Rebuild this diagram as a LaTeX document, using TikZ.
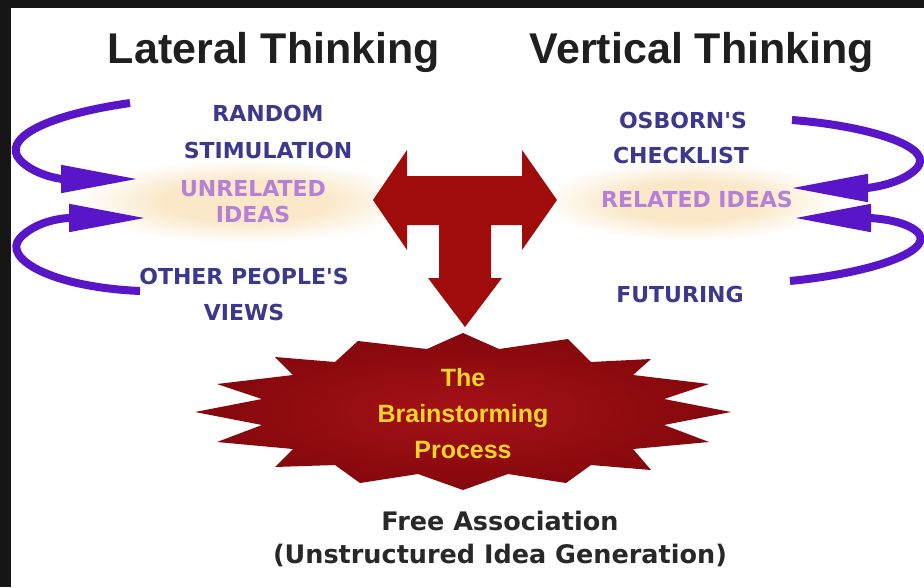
\documentclass[tikz,border=0pt]{standalone}
\usepackage{fontspec}
\setmainfont{Liberation Sans}
\newfontfamily\dejavu{DejaVu Sans}
\usetikzlibrary{arrows.meta}
\definecolor{labelblue}{RGB}{60,56,140}
\definecolor{lightpurple}{RGB}{182,128,216}
\definecolor{arcpurple}{RGB}{88,22,200}
\definecolor{tred}{RGB}{160,12,12}
\definecolor{burstin}{RGB}{165,18,24}
\definecolor{burstout}{RGB}{132,8,12}
\definecolor{burstyellow}{RGB}{247,212,40}
\definecolor{glow}{RGB}{250,232,200}
\definecolor{framecol}{RGB}{22,22,22}
\definecolor{bottomtext}{RGB}{40,40,40}
\pgfdeclareradialshading{glowshade}{\pgfpoint{0bp}{0bp}}{color(0bp)=(glow); color(12bp)=(glow); color(25bp)=(white); color(50bp)=(white)}
\begin{document}
\begin{tikzpicture}[x=1pt,y=-1pt,
  title/.style={font=\fontsize{43}{43}\selectfont\bfseries, text=black!88, anchor=base, inner sep=0},
  lbl/.style={font=\dejavu\fontsize{22}{22}\selectfont\bfseries, text=labelblue, anchor=base, inner sep=0},
  idea/.style={lbl, text=lightpurple},
  bursttext/.style={font=\fontsize{25}{25}\selectfont\bfseries, text=burstyellow, anchor=base, inner sep=0},
  foot/.style={font=\dejavu\fontsize{25.5}{25.5}\selectfont\bfseries, text=bottomtext, anchor=base, inner sep=0},
  arc/.style={draw=arcpurple, line width=8pt, -{Triangle[length=78pt,width=26pt]}}
]
\useasboundingbox (0,0) rectangle (924,587);
\fill[framecol] (0,0) rectangle (924,587);
\fill[white] (11,8) rectangle (924,587);

% glows
\begin{scope}
  \clip (11,8) rectangle (924,587);
  \shade[shading=glowshade] (245,201) ellipse [x radius=170, y radius=42];
  \shade[shading=glowshade] (690,201) ellipse [x radius=150, y radius=40];
\end{scope}

% titles
\node[title] (lat) at (274,63) {Lateral Thinking};
\node[title] (vert) at (702,63) {Vertical Thinking};

% left labels
\node[lbl] (random) at (268,121) {RANDOM};
\node[lbl] (stim) at (268,158) {STIMULATION};
\node[idea] (unrel) at (253,196) {UNRELATED};
\node[idea] (ideas) at (253,222) {IDEAS};
\node[lbl] (other) at (244,284) {OTHER PEOPLE'S};
\node[lbl] (views) at (244,320) {VIEWS};

% right labels
\node[lbl] (osb) at (683,128) {OSBORN'S};
\node[lbl] (check) at (681,163) {CHECKLIST};
\node[idea] (rel) at (697,207) {RELATED IDEAS};
\node[lbl] (fut) at (680,302) {FUTURING};

% purple arcs
\coordinate (la1s) at (130,103);
\coordinate (la1e) at (139,179);
\coordinate (la2s) at (140,291);
\coordinate (la2e) at (147,218);
\coordinate (ra1s) at (792,120);
\coordinate (ra1e) at (790,188);
\coordinate (ra2s) at (790,281);
\coordinate (ra2e) at (793,218);
\begin{scope}
  \clip (11,8) rectangle (924,587);
  \draw[arc] (la1s) .. controls (40,116) and (2,140) .. (20,160) .. controls (34,175) and (60,179) .. (la1e);
  \draw[arc] (la2s) .. controls (50,287) and (2,258) .. (20,238) .. controls (35,222) and (60,218) .. (la2e);
  \draw[arc] (ra1s) .. controls (870,126) and (940,148) .. (915,170) .. controls (900,184) and (870,188) .. (ra1e);
  \draw[arc] (ra2s) .. controls (880,272) and (940,248) .. (915,230) .. controls (900,219) and (870,218) .. (ra2e);
\end{scope}

% red T arrow
\fill[tred] (373,200) -- (407,150) -- (407,176) -- (522,176) -- (522,150) -- (557,200)
  -- (522,250) -- (522,225) -- (491,225) -- (491,278) -- (502,278) -- (465,327)
  -- (428,278) -- (439,278) -- (439,225) -- (407,225) -- (407,250) -- cycle;

% starburst
\shade[inner color=burstin, outer color=burstout]
  (463,333) -- (499,349) -- (568,339) -- (591,362) -- (651,359) -- (633,375)
  -- (709,384) -- (664,399) -- (731,412) -- (664,425) -- (709,442) -- (633,449)
  -- (651,470) -- (591,465) -- (566,483) -- (508,474) -- (463,490) -- (418,474)
  -- (360,483) -- (335,465) -- (275,467) -- (293,449) -- (217,442) -- (262,425)
  -- (195,412) -- (262,399) -- (217,384) -- (293,375) -- (275,357) -- (335,362)
  -- (358,341) -- (427,349) -- cycle;

\node[bursttext] (the) at (463,386) {The};
\node[bursttext] (brain) at (463,422) {Brainstorming};
\node[bursttext] (proc) at (463,458) {Process};

% footer
\node[foot] (free) at (500,530) {Free Association};
\node[foot] (unstr) at (500,563) {(Unstructured Idea Generation)};
\end{tikzpicture}
\end{document}
